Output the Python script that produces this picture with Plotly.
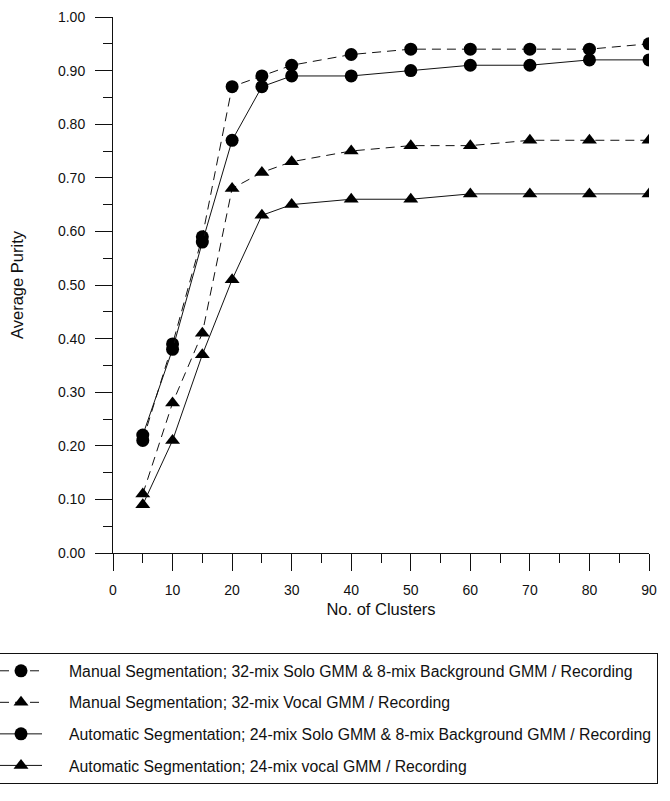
import plotly.graph_objects as go

clusters = [5, 10, 15, 20, 25, 30, 40, 50, 60, 70, 80, 90]
manual_solo_bg = [0.21, 0.39, 0.59, 0.87, 0.89, 0.91, 0.93, 0.94, 0.94, 0.94, 0.94, 0.95]
manual_vocal = [0.11, 0.28, 0.41, 0.68, 0.71, 0.73, 0.75, 0.76, 0.76, 0.77, 0.77, 0.77]
auto_solo_bg = [0.22, 0.38, 0.58, 0.77, 0.87, 0.89, 0.89, 0.90, 0.91, 0.91, 0.92, 0.92]
auto_vocal = [0.09, 0.21, 0.37, 0.51, 0.63, 0.65, 0.66, 0.66, 0.67, 0.67, 0.67, 0.67]

names = [
    "Manual Segmentation; 32-mix Solo GMM & 8-mix Background GMM / Recording",
    "Manual Segmentation; 32-mix Vocal GMM / Recording",
    "Automatic Segmentation; 24-mix Solo GMM & 8-mix Background GMM / Recording",
    "Automatic Segmentation; 24-mix vocal GMM / Recording",
]
series = [manual_solo_bg, manual_vocal, auto_solo_bg, auto_vocal]
symbols = ["circle", "triangle-up", "circle", "triangle-up"]
dashes = ["9px,6px", "9px,6px", "solid", "solid"]

FONT = "Arial, 'Liberation Sans', sans-serif"
INK = "#111111"

fig = go.Figure()
for i, (nm, ys, sym, dsh) in enumerate(zip(names, series, symbols, dashes)):
    fig.add_trace(go.Scatter(
        x=clusters, y=ys, mode="lines+markers", name="\u00a0" * 5 + nm,
        legendgroup=f"g{i}",
        line=dict(color=INK, width=1, dash=dsh),
        marker=dict(symbol=sym, size=13, color="#000000", line=dict(width=0)),
    ))

axis_common = dict(
    showline=True, linecolor=INK, linewidth=1, mirror=False,
    ticks="outside", ticklen=17, tickwidth=1, tickcolor=INK,
    showgrid=False, zeroline=False,
    tickfont=dict(family=FONT, size=14, color=INK),
)

fig.update_xaxes(
    range=[0, 90], tick0=0, dtick=10,
    minor=dict(ticks="outside", ticklen=9, dtick=5, tickcolor=INK, tickwidth=1, showgrid=False),
    title=dict(text="No. of Clusters", font=dict(family=FONT, size=16.5, color=INK), standoff=6),
    ticklabelstandoff=7,
    **axis_common,
)
fig.update_yaxes(
    range=[0, 1], tick0=0, dtick=0.1, tickformat=".2f",
    minor=dict(ticks="outside", ticklen=9, dtick=0.05, tickcolor=INK, tickwidth=1, showgrid=False),
    title=dict(text="Average Purity", font=dict(family=FONT, size=16.5, color=INK), standoff=30),
    ticklabelstandoff=7,
    **axis_common,
)

fig.update_layout(
    width=670, height=801,
    margin=dict(l=113, r=21, t=17, b=248, autoexpand=False),
    paper_bgcolor="white", plot_bgcolor="white",
    showlegend=True,
    legend=dict(
        x=-0.222, y=-0.1866, xanchor="left", yanchor="top",
        bordercolor=INK, borderwidth=1, bgcolor="white",
        font=dict(family=FONT, size=15.8, color=INK),
        itemwidth=42, tracegroupgap=8,
    ),
    font=dict(family=FONT, color=INK),
)

fig.write_html("out.html")
